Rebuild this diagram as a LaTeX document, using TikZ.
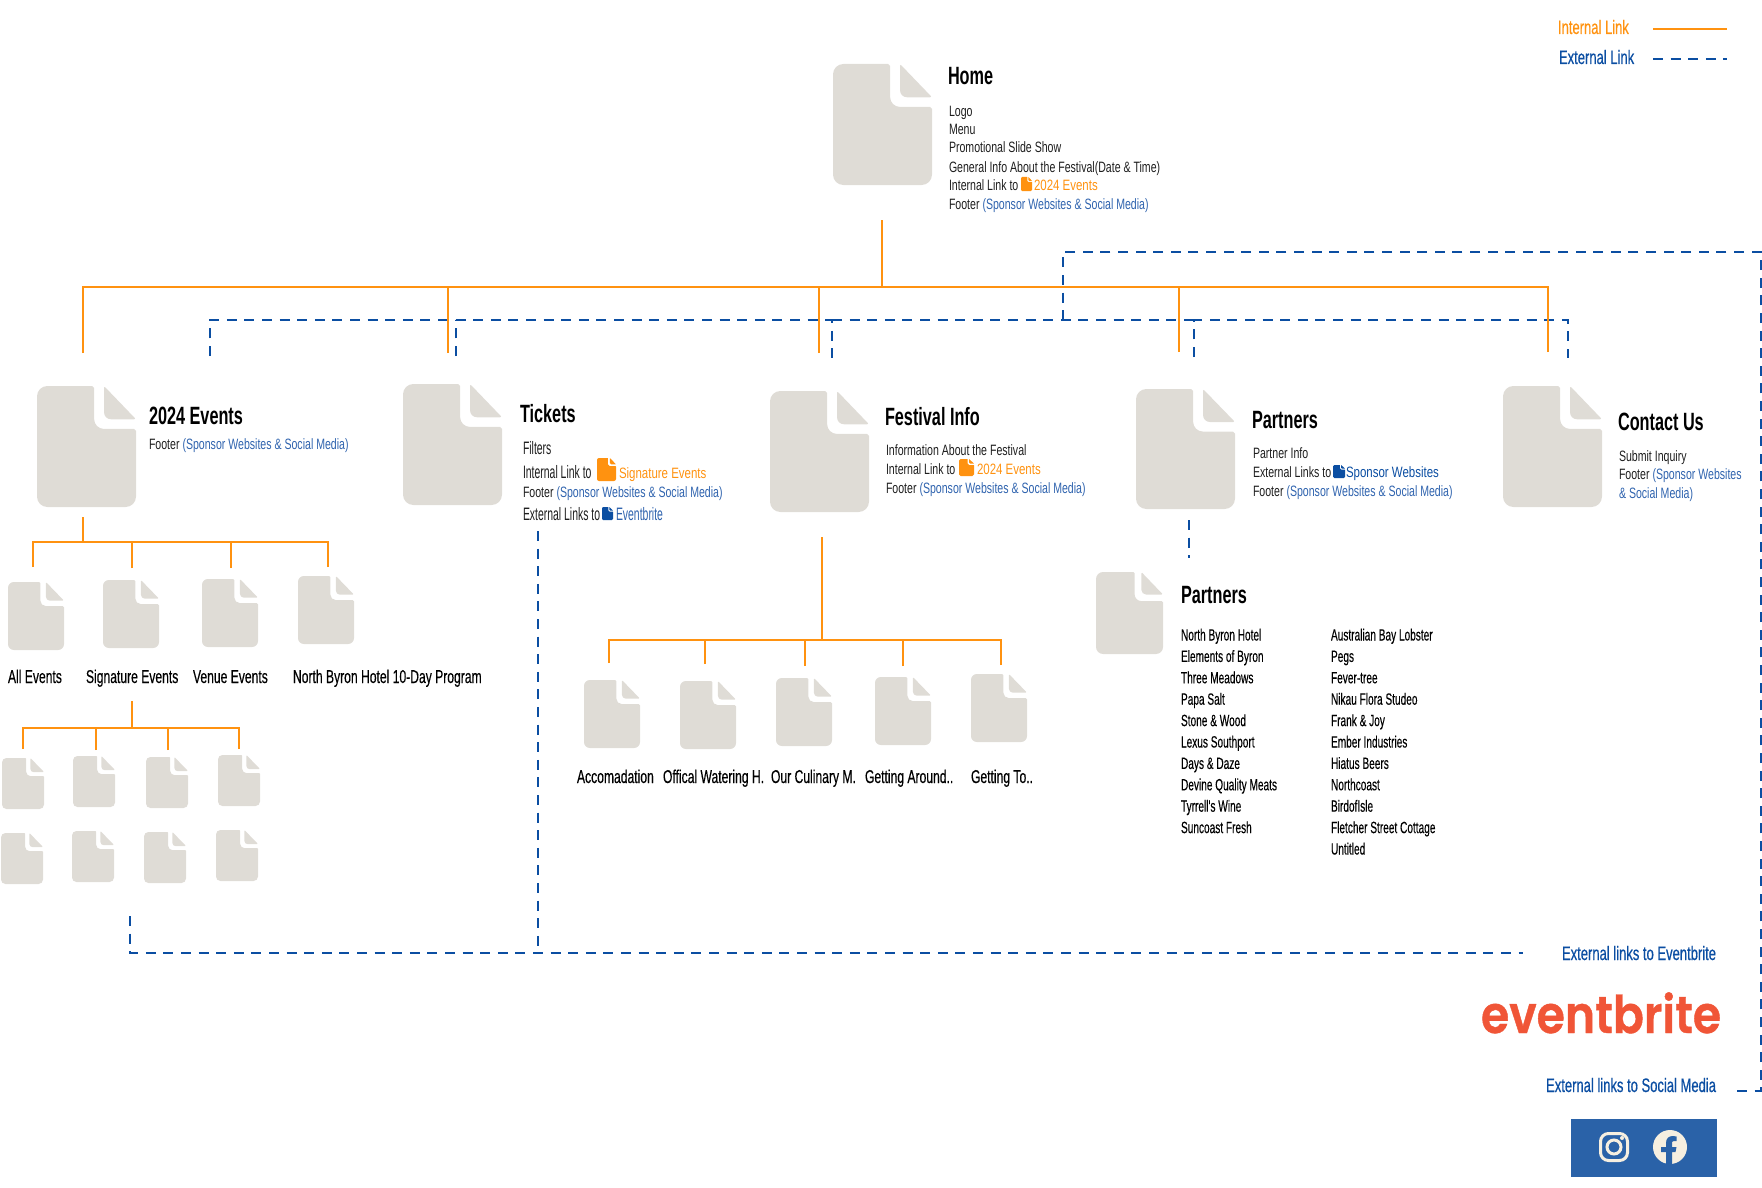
\documentclass[tikz,border=0pt]{standalone}
\usepackage{fontspec}
\usepackage{tikz}
\usetikzlibrary{positioning,calc}

\setmainfont{Liberation Sans}
\newfontfamily\bodyfont{Liberation Sans}[FakeStretch=0.705]
\newfontfamily\bigfont{Liberation Sans}[FakeStretch=0.58]
\newfontfamily\linkfont{Liberation Sans}[FakeStretch=0.765]
\newfontfamily\listfont{Liberation Sans}[FakeStretch=0.62,FakeBold=0.2]
\newfontfamily\titlefont{Liberation Sans Bold}[FakeStretch=0.65]
\newfontfamily\labelfont{Liberation Sans}[FakeStretch=0.652,FakeBold=0.3]
\newfontfamily\legendfont{Liberation Sans}[FakeStretch=0.667,FakeBold=0.5]
\newfontfamily\logofont{Poppins}[UprightFont=* SemiBold,FakeStretch=0.88,FakeBold=0.8]

\definecolor{docgray}{HTML}{DFDCD6}
\definecolor{linkorange}{HTML}{FF9210}
\definecolor{linkblue}{HTML}{0B4EA2}
\definecolor{footblue}{HTML}{2F63AE}
\definecolor{bodyblack}{HTML}{1E1E1E}
\definecolor{brandred}{HTML}{F05537}
\definecolor{panelblue}{HTML}{2A62A8}
\definecolor{panelcream}{HTML}{F6EFE0}

\tikzset{
  internal/.style={draw=linkorange,line width=2.4pt},
  external/.style={draw=linkblue,line width=2pt,dash pattern=on 10pt off 7.6pt},
  docbox/.style={anchor=north west,inner sep=0pt,outer sep=0pt},
  base/.style={anchor=base west,inner sep=0pt,outer sep=0pt},
  title/.style={base,font=\titlefont\fontsize{25}{25}\selectfont,text=black},
  body/.style={base,font=\bodyfont\fontsize{15}{15}\selectfont,text=bodyblack},
  bigbody/.style={base,font=\bigfont\fontsize{18}{18}\selectfont,text=bodyblack},
  inlink/.style={base,font=\linkfont\fontsize{15}{15}\selectfont,text=linkorange},
  outlink/.style={base,font=\linkfont\fontsize{15}{15}\selectfont,text=linkblue},
  pagelabel/.style={base,font=\labelfont\fontsize{18.6}{18.6}\selectfont,text=black},
  partner/.style={base,font=\listfont\fontsize{16.3}{16.3}\selectfont,text=black},
  legend/.style={base,font=\legendfont\fontsize{19.5}{19.5}\selectfont},
}

\newcommand{\Foot}{\textcolor{footblue}{(Sponsor Websites \& Social Media)}}

% #1 colour, #2 name, #3 x, #4 y, #5 width, #6 height
\newcommand{\docnode}[6][docgray]{%
  \node (#2) [docbox,minimum width=#5pt,minimum height=#6pt] at (#3,#4) {};
  \pgfmathsetmacro\docr{0.105*#5}
  \pgfmathsetmacro\docn{0.10*#5}
  \pgfmathsetmacro\docf{0.07*#5}
  \pgfmathsetmacro\docs{0.02*#5}
  \begin{scope}[shift={(#2.north west)},x=#5pt,y=-#6pt]
    \fill [#1,rounded corners=\docr pt] (0,.5) -- (0,0) [rounded corners=\docs pt] -- (.577,0)
      [rounded corners=\docn pt] -- (.577,.355) [rounded corners=\docs pt] -- (1,.355)
      [rounded corners=\docr pt] -- (1,1) -- (0,1) -- cycle;
    \fill [#1,rounded corners=\docs pt] (.677,.1) -- (.677,0) -- (1,.275)
      [rounded corners=\docf pt] -- (.677,.275) [rounded corners=\docs pt] -- cycle;
  \end{scope}
}

\begin{document}
\begin{tikzpicture}[x=1pt,y=-1pt]

    \useasboundingbox (0,0) rectangle (1762,1188);

    % page icons
    \docnode{home}{833}{64}{99}{121}
    \docnode{events}{37}{386}{99}{121}
    \docnode{tickets}{403}{384}{99}{121}
    \docnode{festival}{770}{391}{99}{121}
    \docnode{partners}{1136}{389}{99}{120}
    \docnode{contact}{1503}{386}{99}{121}
    \docnode{sponsors}{1096}{572}{67}{82}

    \docnode{allevents}{8}{582}{56}{68}
    \docnode{signature}{103}{580}{56}{68}
    \docnode{venue}{202}{579}{56}{68}
    \docnode{northbyron}{298}{576}{56}{68}

    \docnode{sig-a}{2}{758}{42}{51}
    \docnode{sig-b}{73}{756}{42}{51}
    \docnode{sig-c}{146}{757}{42}{51}
    \docnode{sig-d}{218}{755}{42}{51}
    \docnode{sig-e}{1}{833}{42}{51}
    \docnode{sig-f}{72}{831}{42}{51}
    \docnode{sig-g}{144}{832}{42}{51}
    \docnode{sig-h}{216}{830}{42}{51}

    \docnode{accom}{584}{680}{56}{68}
    \docnode{watering}{680}{681}{56}{68}
    \docnode{culinary}{776}{678}{56}{68}
    \docnode{around}{875}{677}{56}{68}
    \docnode{gettingto}{971}{674}{56}{68}

    % external links
    \coordinate (ext-events)   at (210,356);
    \coordinate (ext-tickets)  at (456,356);
    \coordinate (ext-festival) at (832,358);
    \coordinate (ext-partners) at (1194,357);
    \coordinate (ext-contact)  at (1568,358);
    \coordinate (ext-bus)      at (882,320);
    \draw [external] (ext-events) -- (ext-events |- ext-bus) -- (ext-festival |- ext-bus) -- (ext-festival);
    \draw [external] (ext-tickets) -- (ext-tickets |- ext-bus);
    \draw [external] (ext-partners) -- (ext-partners |- ext-bus) -- (ext-contact |- ext-bus) -- (ext-contact);
    \draw [external] (ext-festival |- ext-bus) -- (ext-partners |- ext-bus);

    \coordinate (social-end)   at (1737,1091);
    \coordinate (social-top)   at (1761,252);
    \coordinate (social-start) at (1063,320);
    \draw [external] (social-end) -- (social-end -| social-top) -- (social-top)
      -- (social-top -| social-start) -- (social-start);

    \coordinate (tickets-ext) at (538,531);
    \coordinate (sig-ext)     at (130,916);
    \coordinate (brite-end)   at (1523,953);
    \draw [external] (sig-ext) |- (brite-end);
    \draw [external] (tickets-ext) -- (tickets-ext |- brite-end);

    \coordinate (partners-ext) at (1189,520);
    \coordinate (sponsors-ext) at (1189,558);
    \draw [external] (partners-ext) -- (sponsors-ext);

    % internal links
    \coordinate (home-stem) at (882,220);
    \coordinate (home-bus)  at (882,287);
    \draw [internal] (home-stem) -- (home-bus);
    \foreach \n/\x/\y in {events/83/353,tickets/448/353,festival/819/353,partners/1179/352,contact/1548/352}{
      \coordinate (drop-\n) at (\x,\y);
      \draw [internal] (drop-\n) |- (home-bus);
    }

    \coordinate (events-stem) at (83,517);
    \coordinate (events-bus)  at (83,542);
    \draw [internal] (events-stem) -- (events-bus);
    \foreach \n/\x/\y in {allevents/33/567,signature/132/568,venue/231/568,northbyron/328/567}{
      \coordinate (drop-\n) at (\x,\y);
      \draw [internal] (drop-\n) |- (events-bus);
    }

    \coordinate (sig-stem) at (132,701);
    \coordinate (sig-bus)  at (132,728);
    \draw [internal] (sig-stem) -- (sig-bus);
    \foreach \n/\x/\y in {a/23/749,b/96/750,c/168/750,d/239/749}{
      \coordinate (drop-sig-\n) at (\x,\y);
      \draw [internal] (drop-sig-\n) |- (sig-bus);
    }

    \coordinate (festival-stem) at (822,537);
    \coordinate (festival-bus)  at (822,640);
    \draw [internal] (festival-stem) -- (festival-bus);
    \foreach \n/\x/\y in {accom/609/663,watering/705/664,culinary/805/666,around/903/666,gettingto/1001/665}{
      \coordinate (drop-\n) at (\x,\y);
      \draw [internal] (drop-\n) |- (festival-bus);
    }

    % Home
    \node (home-title) [title] at (948,85) {Home};
    \node (home-logo)  [body] at (949,117) {Logo};
    \node (home-menu)  [body] at (949,135) {Menu};
    \node (home-promo) [body] at (949,153) {Promotional Slide Show};
    \node (home-info)  [body] at (949,172) {General Info About the Festival(Date \& Time)};
    \node (home-link)  [body] at (949,190) {Internal Link to};
    \docnode[linkorange]{home-link-doc}{1021}{177}{11}{14}
    \node (home-link-name) [inlink] at (1034,190) {2024 Events};
    \node (home-foot)  [body] at (949,209) {Footer \Foot};

    % 2024 Events
    \node (events-title) [title] at (149,424) {2024 Events};
    \node (events-foot)  [body] at (149,449) {Footer \Foot};

    % Tickets
    \node (tickets-title) [title] at (520,422) {Tickets};
    \node (tickets-filters) [bigbody] at (523,454) {Filters};
    \node (tickets-link)  [bigbody] at (523,478) {Internal Link to};
    \docnode[linkorange]{tickets-link-doc}{597}{458}{19}{23}
    \node (tickets-link-name) [inlink] at (619,478) {Signature Events};
    \node (tickets-foot)  [body] at (523,497) {Footer \Foot};
    \node (tickets-ext-text) [bigbody] at (523,520) {External Links to};
    \docnode[linkblue]{tickets-ext-doc}{602}{507}{11}{13}
    \node (tickets-ext-name) [bigbody,text=footblue] at (616,520) {Eventbrite};

    % Festival Info
    \node (festival-title) [title] at (885,425) {Festival Info};
    \node (festival-info)  [body] at (886,455) {Information About the Festival};
    \node (festival-link)  [body] at (886,474) {Internal Link to};
    \docnode[linkorange]{festival-link-doc}{959}{459}{15}{17}
    \node (festival-link-name) [inlink] at (977,474) {2024 Events};
    \node (festival-foot)  [body] at (886,493) {Footer \Foot};

    % Partners
    \node (partners-title) [title] at (1252,428) {Partners};
    \node (partners-info)  [body] at (1253,458) {Partner Info};
    \node (partners-link)  [body] at (1253,477) {External Links to};
    \docnode[linkblue]{partners-link-doc}{1333}{465}{12}{13}
    \node (partners-link-name) [outlink] at (1346,477) {Sponsor Websites};
    \node (partners-foot)  [body] at (1253,496) {Footer \Foot};

    % Contact Us
    \node (contact-title) [title] at (1618,430) {Contact Us};
    \node (contact-info)  [body] at (1619,461) {Submit Inquiry};
    \node (contact-foot)  [body] at (1619,479) {Footer \textcolor{footblue}{(Sponsor Websites}};
    \node (contact-foot-b) [body,text=footblue] at (1619,498) {\& Social Media)};

    % page names
    \node (allevents-name)  [pagelabel] at (8,683) {All Events};
    \node (signature-name)  [pagelabel] at (86,683) {Signature Events};
    \node (venue-name)      [pagelabel] at (193,683) {Venue Events};
    \node (northbyron-name) [pagelabel] at (293,683) {North Byron Hotel 10-Day Program};
    \node (accom-name)      [pagelabel] at (577,783) {Accomadation};
    \node (watering-name)   [pagelabel] at (663,783) {Offical Watering H.};
    \node (culinary-name)   [pagelabel] at (771,783) {Our Culinary M.};
    \node (around-name)     [pagelabel] at (865,783) {Getting Around..};
    \node (gettingto-name)  [pagelabel] at (971,783) {Getting To..};

    % Partners list
    \node (sponsors-title) [title] at (1181,603) {Partners};
    \foreach \t [count=\i from 0] in {North Byron Hotel,Elements of Byron,Three Meadows,Papa Salt,
        Stone \& Wood,Lexus Southport,Days \& Daze,Devine Quality Meats,Tyrrell's Wine,Suncoast Fresh}{
      \node (left-\i) [partner] at (1181,640.5+21.4*\i) {\t};
    }
    \foreach \t [count=\i from 0] in {Australian Bay Lobster,Pegs,Fever-tree,Nikau Flora Studeo,Frank \& Joy,
        Ember Industries,Hiatus Beers,Northcoast,BirdofIsle,Fletcher Street Cottage,Untitled}{
      \node (right-\i) [partner] at (1331,640.5+21.4*\i) {\t};
    }

    % legend
    \node (legend-int) [legend,text=linkorange] at (1558,34) {Internal Link};
    \node (legend-ext) [legend,text=linkblue] at (1559,64) {External Link};
    \coordinate (legend-int-a) at (1653,29);
    \coordinate (legend-int-b) at (1727,29);
    \coordinate (legend-ext-a) at (1653,59);
    \coordinate (legend-ext-b) at (1727,59);
    \draw [internal] (legend-int-a) -- (legend-int-b);
    \draw [external] (legend-ext-a) -- (legend-ext-b);

    % bottom right
    \node (brite-text)  [legend,text=linkblue,anchor=base east] at (1716,960) {External links to Eventbrite};
    \node (social-text) [legend,text=linkblue,anchor=base east] at (1716,1092) {External links to Social Media};
    \node (brite-logo)  [base,font=\logofont\fontsize{52}{52}\selectfont,text=brandred] at (1481,1033) {eventbrite};

    \node (social-panel) [docbox,fill=panelblue,minimum width=146pt,minimum height=58pt] at (1571,1119) {};
    \node (insta) [draw=panelcream,line width=3pt,rounded corners=8pt,minimum size=27pt,inner sep=0pt] at (1614,1147) {};
    \node (insta-lens) [circle,draw=panelcream,line width=3pt,minimum size=14pt,inner sep=0pt] at (insta) {};
    \node (insta-dot) [circle,fill=panelcream,minimum size=4pt,inner sep=0pt] at (1622,1138) {};
    \node (fb) [circle,fill=panelcream,minimum size=34pt,inner sep=0pt] at (1670,1147) {};
    \begin{scope}[shift={(fb.center)}]
      \fill [panelblue] (-4,17) -- (-4,5) -- (-9,5) -- (-9,0) -- (-4,0) -- (-4,-4)
        .. controls (-4,-9) and (-1,-11) .. (3,-11) -- (6.5,-10.5) -- (6.5,-6) -- (4,-6)
        .. controls (2,-6) and (2,-5) .. (2,-3) -- (2,0) -- (6.5,0) -- (5.5,5) -- (2,5) -- (2,17) -- cycle;
    \end{scope}

\end{tikzpicture}
\end{document}
